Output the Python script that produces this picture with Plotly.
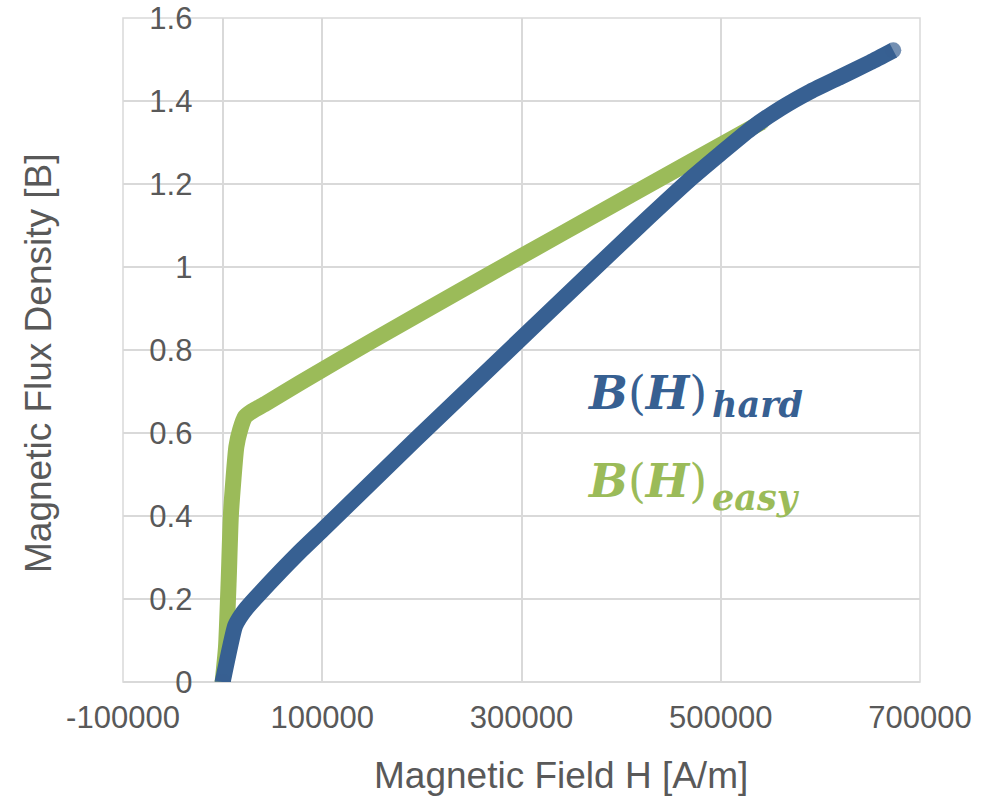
import plotly.graph_objects as go

# ---- data ----
h_easy = [0, 3400, 6100, 8400, 13800, 17500, 22500, 30000, 44000, 77700, 150000,
          241600, 298500, 385600, 459300, 541000]
b_easy = [0, 0.085, 0.246, 0.407, 0.567, 0.607, 0.639, 0.653, 0.672, 0.721, 0.822,
          0.947, 1.024, 1.141, 1.240, 1.349]

h_hard = [0, 12500, 17000, 24000, 37500, 76700, 101000, 193100, 318600,
          418000, 472400, 500000, 530000, 560000, 590000, 620000, 650000, 673200]
b_hard = [0, 0.135, 0.155, 0.178, 0.214, 0.312, 0.368, 0.583, 0.871,
          1.098, 1.218, 1.274, 1.333, 1.382, 1.423, 1.458, 1.493, 1.522]

x_ticks = [-100000, 100000, 300000, 500000, 700000]
y_ticks = [0, 0.2, 0.4, 0.6, 0.8, 1.0, 1.2, 1.4, 1.6]
y_tick_text = ["0", "0.2", "0.4", "0.6", "0.8", "1", "1.2", "1.4", "1.6"]

x_title = "Magnetic Field H [A/m]"
y_title = "Magnetic Flux Density [B]"

BLUE = "#376092"
GREEN = "#9BBB59"
GREY_TXT = "#595959"
GRID = "#d9d9d9"
LW = 16

W, H = 996, 799
L, R, T, B = 123, 76, 18, 117
PW, PH = W - L - R, H - T - B


def px(xp):
    return (xp - L) / PW


def py(yp):
    return (H - B - yp) / PH


def cap_sizes(n):
    return [LW] + [0] * (n - 2) + [LW]


fig = go.Figure()
fig.add_trace(go.Scatter(
    x=h_easy, y=b_easy, mode="lines+markers",
    line=dict(color=GREEN, width=LW, shape="spline", smoothing=0.5),
    marker=dict(color=GREEN, size=cap_sizes(len(h_easy)), line=dict(width=0)),
    showlegend=False, hoverinfo="skip"))
fig.add_trace(go.Scatter(
    x=h_hard, y=b_hard, mode="lines+markers",
    line=dict(color=BLUE, width=LW, shape="spline", smoothing=0.5),
    marker=dict(color=BLUE, size=cap_sizes(len(h_hard)), line=dict(width=0)),
    showlegend=False, hoverinfo="skip"))

font_ax = dict(family="Liberation Sans, Arial, sans-serif", color=GREY_TXT)

fig.update_layout(
    width=W, height=H,
    margin=dict(l=L, r=R, t=T, b=B, pad=0, autoexpand=False),
    paper_bgcolor="white", plot_bgcolor="white",
    xaxis=dict(range=[-100000, 700000], tickvals=x_ticks,
               ticktext=[str(v) for v in x_ticks], automargin=False,
               showgrid=True, gridcolor=GRID, gridwidth=1.5,
               zeroline=True, zerolinecolor=GRID, zerolinewidth=1.5,
               showline=False, ticks="outside", ticklen=8,
               tickcolor="rgba(0,0,0,0)",
               tickfont=dict(size=31, **font_ax)),
    yaxis=dict(range=[0, 1.6], tickvals=y_ticks, ticktext=y_tick_text,
               anchor="free", position=(0 - (-100000)) / 800000,
               automargin=False,
               showgrid=True, gridcolor=GRID, gridwidth=1.5,
               zeroline=True, zerolinecolor=GRID, zerolinewidth=1.5,
               showline=False, ticks="outside", ticklen=24,
               tickcolor="rgba(0,0,0,0)",
               tickfont=dict(size=31, **font_ax)),
    shapes=[dict(type="rect", xref="paper", yref="paper", x0=0, x1=1, y0=0, y1=1,
                 line=dict(color=GRID, width=1.5), layer="below")],
)

annos = [
    dict(text=x_title, x=px(561), y=py(775), xanchor="center", yanchor="middle",
         font=dict(size=37, **font_ax)),
    dict(text=y_title, x=px(38), y=py(364), xanchor="center", yanchor="middle",
         textangle=-90, font=dict(size=37, **font_ax)),
]
math_font = "DejaVu Serif, Liberation Serif, serif"
for sub, col, yc, ysub in [("hard", BLUE, 393, 404), ("easy", GREEN, 481, 497)]:
    annos.append(dict(
        text="<b><i>B</i></b>(<b><i>H</i></b>)",
        x=px(585), y=py(yc), xanchor="left", yanchor="middle",
        font=dict(size=46, family=math_font, color=col)))
    annos.append(dict(
        text="<b><i>%s</i></b>" % sub,
        x=px(710), y=py(ysub), xanchor="left", yanchor="middle",
        font=dict(size=35, family=math_font, color=col)))

for a in annos:
    a.update(xref="paper", yref="paper", showarrow=False)
fig.update_layout(annotations=annos)

fig.write_html("out.html",
               config={"displayModeBar": False},
               post_script="document.body.style.margin='0';"
                           "document.body.style.overflow='hidden';")
